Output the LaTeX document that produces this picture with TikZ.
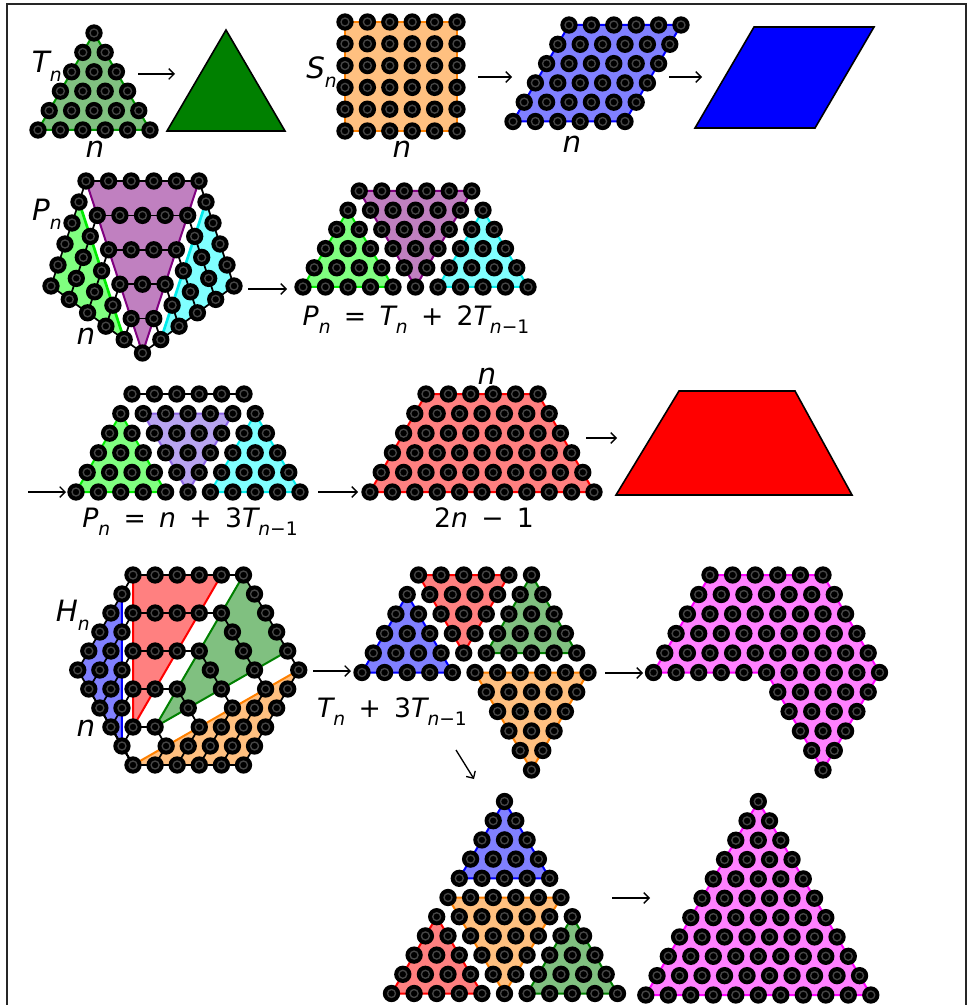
\documentclass[tikz,border=0pt]{standalone}
\usepackage{fontspec}
\setmainfont{DejaVu Sans}
\usetikzlibrary{arrows.meta}
\definecolor{tnF}{RGB}{128,192,128}
\definecolor{tnE}{RGB}{0,150,0}
\definecolor{dgreen}{RGB}{0,128,0}
\definecolor{orF}{RGB}{255,192,128}
\definecolor{orE}{RGB}{255,128,0}
\definecolor{blF}{RGB}{128,128,255}
\definecolor{blE}{RGB}{0,0,255}
\definecolor{lgF}{RGB}{128,255,128}
\definecolor{lgE}{RGB}{0,235,0}
\definecolor{cyF}{RGB}{128,255,255}
\definecolor{cyE}{RGB}{0,235,235}
\definecolor{puF}{RGB}{192,128,192}
\definecolor{puE}{RGB}{128,0,128}
\definecolor{laF}{RGB}{184,164,240}
\definecolor{laE}{RGB}{140,100,230}
\definecolor{rdF}{RGB}{255,128,128}
\definecolor{rdE}{RGB}{255,0,0}
\definecolor{mgF}{RGB}{255,128,255}
\definecolor{mgE}{RGB}{255,0,255}
\definecolor{ringc}{RGB}{70,70,70}
\newcommand\dotat[2]{\fill[black] ({#1},{#2}) circle[radius=6.5pt];\draw[ringc,line width=1pt] ({#1},{#2}) circle[radius=3pt];}
\newcommand\dotrow[4]{\foreach \q in {1,...,#3}{\dotat{#1+(\q-1)*(#4)}{#2}}}
\newcommand\uptri[5]{\foreach \r in {1,...,#3}{\dotrow{#1-(\r-1)*(#4)/2}{#2+(\r-1)*(#5)}{\r}{#4}}}
\newcommand\dntri[5]{\foreach \r in {1,...,#3}{\pgfmathtruncatemacro\nn{#3-\r+1}\dotrow{#1+(\r-1)*(#4)/2}{#2+(\r-1)*(#5)}{\nn}{#4}}}
\newcommand\sbs[1]{\raisebox{-0.3em}{\fontsize{14}{14}\selectfont #1}}
\newcommand\vr[1]{{\itshape #1}}
\newcommand\gap{\hspace{0.5em}}
\begin{document}
\begin{tikzpicture}[x=0.75pt,y=-0.75pt,
  blk/.style={black,line width=1.3pt},
  arr/.style={-{Straight Barb[length=4pt,width=8pt]},line width=1pt},
  lbl/.style={font=\fontsize{22}{22}\selectfont\itshape, inner sep=0pt},
  eqn/.style={font=\fontsize{20}{20}\selectfont, inner sep=0pt},
  edg/.style={line width=1.5pt, line join=round}]
\useasboundingbox (0,0) rectangle (977,1005);
\draw[line width=1.2pt, black!85] (7,1005) -- (7,4) -- (966,4) -- (966,1005);

% ---------- Row 1 ----------
\filldraw[fill=tnF, draw=tnE, edg] (94,33) -- (38,130) -- (150,130) -- cycle;
\uptri{94}{33}{6}{22.4}{19.4}
\node[lbl, anchor=east] (tnl) at (62,66) {T\sbs{n}};
\node[lbl] (tnn) at (95,149) {n};
\coordinate (a1s) at (138,74); \coordinate (a1e) at (175,74);
\draw[arr] (a1s) -- (a1e);
\filldraw[fill=dgreen, draw=black, line width=1.2pt] (167,131) -- (226,30) -- (285,131) -- cycle;

\filldraw[fill=orF, draw=orE, edg] (345,22) rectangle (457,131);
\foreach \i in {0,...,5}{\foreach \j in {0,...,5}{\dotat{345+\i*22.4}{22+\j*21.8}}}
\node[lbl, anchor=east] (snl) at (337,72) {S\sbs{n}};
\node[lbl] (snn) at (402,149) {n};
\coordinate (a2s) at (478,77); \coordinate (a2e) at (512,77);
\draw[arr] (a2s) -- (a2e);

\filldraw[fill=blF, draw=blE, edg] (569,25) -- (681,25) -- (625,121.5) -- (513,121.5) -- cycle;
\foreach \rr in {0,...,5}{\dotrow{569-\rr*11.2}{25+\rr*19.3}{6}{22.4}}
\node[lbl] (pgn) at (572,144) {n};
\coordinate (a3s) at (669,77); \coordinate (a3e) at (702,77);
\draw[arr] (a3s) -- (a3e);
\filldraw[fill=blE, draw=black, line width=1.2pt] (695,128) -- (815,128) -- (874,27) -- (754,27) -- cycle;

% ---------- Row 2: pentagon ----------
\fill[puF] (86,181) -- (199,181) -- (142.5,353) -- cycle;
\begin{scope}[shift={(86,181)}, x={(-5.25pt,-15.75pt)}, y={(13.725pt,-10.05pt)}]
  \fill[lgF] (1,0) -- (5,0) -- (5,4) -- cycle;
\end{scope}
\begin{scope}[shift={(199,181)}, x={(5.25pt,-15.75pt)}, y={(-13.725pt,-10.05pt)}]
  \fill[cyF] (1,0) -- (5,0) -- (5,4) -- cycle;
\end{scope}
\foreach \k in {0,...,4}{\draw[blk] (86+11.3*\k,181+34.4*\k) -- (199-11.3*\k,181+34.4*\k);}
\draw[puE, edg] (86,181) -- (142.5,353) -- (199,181);
\begin{scope}[shift={(86,181)}, x={(-5.25pt,-15.75pt)}, y={(13.725pt,-10.05pt)}]
  \draw[blk] (0,0) -- (5,0) -- (5,5);
  \foreach \j in {1,...,4}{\draw[blk] (\j,\j) -- (5,\j);}
  \draw[lgE, line width=2pt] (1,0) -- (5,4);
  \foreach \i in {1,...,5}{\foreach \j in {1,...,\i}{\dotat{\i}{\j-1}}}
\end{scope}
\begin{scope}[shift={(199,181)}, x={(5.25pt,-15.75pt)}, y={(-13.725pt,-10.05pt)}]
  \draw[blk] (0,0) -- (5,0) -- (5,5);
  \foreach \j in {1,...,4}{\draw[blk] (\j,\j) -- (5,\j);}
  \draw[cyE, line width=2pt] (1,0) -- (5,4);
  \foreach \i in {1,...,5}{\foreach \j in {1,...,\i}{\dotat{\i}{\j-1}}}
\end{scope}
\foreach \k in {0,...,5}{\pgfmathtruncatemacro\mm{6-\k}\dotrow{86+11.3*\k}{181+34.4*\k}{\mm}{22.6}}
\node[lbl, anchor=east] (pnl) at (62,214) {P\sbs{n}};
\node[lbl] (pnn) at (86,336) {n};
\coordinate (a4s) at (248,289); \coordinate (a4e) at (287,289);
\draw[arr] (a4s) -- (a4e);

\filldraw[fill=lgF, draw=lgE, edg] (348,210.2) -- (303,287) -- (393,287) -- cycle;
\filldraw[fill=puF, draw=puE, edg] (359.25,191) -- (471.75,191) -- (415.5,287) -- cycle;
\filldraw[fill=cyF, draw=cyE, edg] (483,210.2) -- (438,287) -- (528,287) -- cycle;
\uptri{348}{210.2}{5}{22.5}{19.2}
\dntri{359.25}{191}{6}{22.5}{19.2}
\uptri{483}{210.2}{5}{22.5}{19.2}
\node[eqn] (eq1) at (416,320) {\vr{P}\sbs{\vr{n}}\gap=\gap\vr{T}\sbs{\vr{n}}\gap+\gap2\vr{T}\sbs{\vr{n}−1}};

% ---------- Row 3 ----------
\coordinate (a5s) at (28,492); \coordinate (a5e) at (66,492);
\draw[arr] (a5s) -- (a5e);
\filldraw[fill=lgF, draw=lgE, edg] (120.8,413.6) -- (76,492) -- (165.6,492) -- cycle;
\filldraw[fill=laF, draw=laE, edg] (143.2,413.6) -- (232.8,413.6) -- (188,492) -- cycle;
\filldraw[fill=cyF, draw=cyE, edg] (255.2,413.6) -- (210.4,492) -- (300,492) -- cycle;
\draw[blk] (132,394) -- (244,394);
\dotrow{132}{394}{6}{22.4}
\uptri{120.8}{413.6}{5}{22.4}{19.6}
\dntri{143.2}{413.6}{5}{22.4}{19.6}
\uptri{255.2}{413.6}{5}{22.4}{19.6}
\node[eqn] (eq2) at (190,522) {\vr{P}\sbs{\vr{n}}\gap=\gap\vr{n}\gap+\gap3\vr{T}\sbs{\vr{n}−1}};
\coordinate (a6s) at (318,492); \coordinate (a6e) at (358,492);
\draw[arr] (a6s) -- (a6e);

\filldraw[fill=rdF, draw=rdE, edg] (426,394) -- (538,394) -- (594,492) -- (370,492) -- cycle;
\foreach \rr in {0,...,5}{\pgfmathtruncatemacro\mm{6+\rr}\dotrow{426-\rr*11.2}{394+\rr*19.6}{\mm}{22.4}}
\node[lbl] (trn) at (487,376) {n};
\node[eqn] (tr2) at (484,518) {2\vr{n}\gap−\gap1};
\coordinate (a7s) at (586,438); \coordinate (a7e) at (617,438);
\draw[arr] (a7s) -- (a7e);
\filldraw[fill=rdE, draw=black, line width=1.2pt] (616,495) -- (852,495) -- (795,391) -- (679,391) -- cycle;

% ---------- Row 4: hexagon ----------
\begin{scope}[shift={(133,765)}, x={(16.575pt,0pt)}, y={(8.2875pt,14.25pt)}]
  \fill[orF] (0,0) -- (5,0) -- (5,5) -- cycle;
  \fill[tnF] (0,2) -- (0,10) -- (4,6) -- cycle;
  \fill[rdF] (-1,2) -- (-5,10) -- (-1,10) -- cycle;
  \fill[blF] (-1,1) -- (-5,5) -- (-5,9) -- cycle;
  \foreach \k in {1,...,5}{\draw[blk, line join=round] (0,0) -- (\k,0) -- (\k,\k) -- (0,2*\k) -- (-\k,2*\k) -- (-\k,\k) -- cycle;}
  \draw[blE, edg] (-1,1) -- (-5,9);
  \draw[rdE, edg] (-1,10) -- (-1,2) -- (-5,10);
  \draw[dgreen, edg] (0,10) -- (0,2) -- (4,6);
  \draw[orE, edg] (0,0) -- (5,5);
  \foreach \p in {0,...,5}{\foreach \j in {0,...,\p}{\dotat{\p}{\j}}}
  \foreach \k in {1,...,5}{\foreach \j in {1,...,\k}{\dotat{\k-\j}{\k+\j}\dotat{-\k+\j-1}{2*\k}\dotat{-\k}{\k+\j-1}}}
\end{scope}
\node[lbl, anchor=east] (hnl) at (90,615) {H\sbs{n}};
\node[lbl] (hnn) at (86,728) {n};
\coordinate (a8s) at (313,671); \coordinate (a8e) at (351,671);
\draw[arr] (a8s) -- (a8e);

\filldraw[fill=blF, draw=blE, edg] (407.2,594.5) -- (362,672.5) -- (452.4,672.5) -- cycle;
\filldraw[fill=rdF, draw=rdE, edg] (418.5,575) -- (508.9,575) -- (463.7,653) -- cycle;
\filldraw[fill=tnF, draw=dgreen, edg] (531.5,575) -- (486.3,653) -- (576.7,653) -- cycle;
\filldraw[fill=orF, draw=orE, edg] (475,672.5) -- (588,672.5) -- (531.5,770) -- cycle;
\uptri{407.2}{594.5}{5}{22.6}{19.5}
\dntri{418.5}{575}{5}{22.6}{19.5}
\uptri{531.5}{575}{5}{22.6}{19.5}
\dntri{475}{672.5}{6}{22.6}{19.5}
\node[eqn] (eq3) at (392,712) {\vr{T}\sbs{\vr{n}}\gap+\gap3\vr{T}\sbs{\vr{n}−1}};
\coordinate (a9s) at (605,673); \coordinate (a9e) at (643,673);
\draw[arr] (a9s) -- (a9e);

\filldraw[fill=mgF, draw=mgE, edg] (710,575) -- (823,575) -- (879.5,672.5) -- (823,770) -- (766.5,672.5) -- (653.5,672.5) -- cycle;
\foreach \rr in {0,...,5}{\pgfmathtruncatemacro\mm{6+\rr}\dotrow{710-\rr*11.3}{575+\rr*19.5}{\mm}{22.6}}
\foreach \rr in {6,...,10}{\pgfmathtruncatemacro\mm{11-\rr}\dotrow{766.5+(\rr-5)*11.3}{575+\rr*19.5}{\mm}{22.6}}

\coordinate (a10s) at (456,750); \coordinate (a10e) at (474,779);
\draw[arr] (a10s) -- (a10e);

% ---------- Row 5 ----------
\filldraw[fill=blF, draw=blE, edg] (504.5,801.5) -- (459.3,878.3) -- (549.7,878.3) -- cycle;
\filldraw[fill=orF, draw=orE, edg] (448,897.5) -- (561,897.5) -- (504.5,993.5) -- cycle;
\filldraw[fill=rdF, draw=rdE, edg] (436.7,916.7) -- (391.5,993.5) -- (481.9,993.5) -- cycle;
\filldraw[fill=tnF, draw=dgreen, edg] (572.3,916.7) -- (527.1,993.5) -- (617.5,993.5) -- cycle;
\uptri{504.5}{801.5}{5}{22.6}{19.2}
\dntri{448}{897.5}{6}{22.6}{19.2}
\uptri{436.7}{916.7}{5}{22.6}{19.2}
\uptri{572.3}{916.7}{5}{22.6}{19.2}
\coordinate (a11s) at (612,898); \coordinate (a11e) at (650,898);
\draw[arr] (a11s) -- (a11e);

\filldraw[fill=mgF, draw=mgE, edg] (758.3,801.5) -- (645.8,995) -- (870.8,995) -- cycle;
\uptri{758.3}{801.5}{11}{22.5}{19.35}
\end{tikzpicture}
\end{document}
